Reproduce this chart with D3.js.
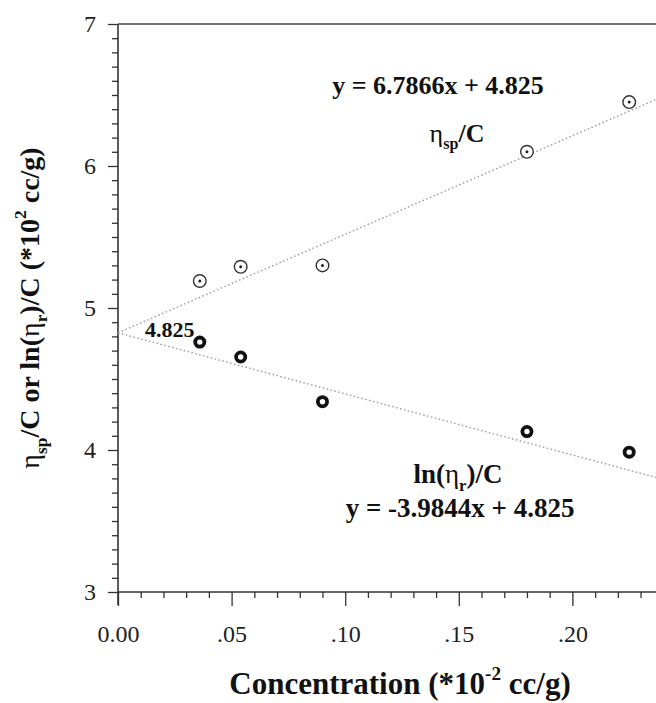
<!DOCTYPE html>
<html>
<head>
<meta charset="utf-8">
<script src="https://cdnjs.cloudflare.com/ajax/libs/d3/7.8.5/d3.min.js"></script>
<style>
  body { margin: 0; background: #fff; }
  svg { display: block; font-family: "Liberation Serif", "Times New Roman", serif; }
  .axis path { display: none; }
  .axis line { stroke: #333; stroke-width: 1.3; }
  .axis text { fill: #222; font-size: 24px; font-family: "Liberation Serif", "Times New Roman", serif; }
</style>
</head>
<body>
<div id="chart"></div>
<script>
// data
const conc = [0.036, 0.054, 0.090, 0.180, 0.225];
const etaSpC = [5.19, 5.29, 5.30, 6.10, 6.45];
const lnEtaRC = [4.76, 4.655, 4.34, 4.13, 3.985];

// dotted fit lines as drawn (start and end)
const fitX = [0, 0.25];
const fitUpper = [4.825, 6.56];
const fitLower = [4.825, 3.75];

const xMajor = [0, 0.05, 0.10, 0.15, 0.20];
const xLabels = ["0.00", ".05", ".10", ".15", ".20"];
const yMajor = [3, 4, 5, 6, 7];

const width = 656;
const height = 703;

const svg = d3.select("#chart")
  .append("svg")
  .attr("width", width)
  .attr("height", height);

const x = d3.scaleLinear().domain([0, 0.25]).range([118, 686]);
const y = d3.scaleLinear().domain([3, 7]).range([592, 24]);

// minor ticks
const xMinor = d3.range(0, 0.2501, 0.01).filter(v => Math.abs(v * 20 - Math.round(v * 20)) > 1e-6);
const yMinor = d3.range(3, 7.001, 0.1).filter(v => Math.abs(v - Math.round(v)) > 1e-6);

svg.append("g")
  .attr("class", "axis")
  .attr("transform", `translate(0,${y(3)})`)
  .call(d3.axisBottom(x).tickValues(xMinor).tickSize(6).tickFormat(""));

svg.append("g")
  .attr("class", "axis")
  .attr("transform", `translate(0,${y(3)})`)
  .call(d3.axisBottom(x).tickValues(xMajor).tickSize(14).tickPadding(19)
    .tickFormat((d, i) => xLabels[i]));

svg.append("g")
  .attr("class", "axis")
  .attr("transform", `translate(${x(0)},0)`)
  .call(d3.axisLeft(y).tickValues(yMinor).tickSize(6).tickFormat(""));

svg.append("g")
  .attr("class", "axis")
  .attr("transform", `translate(${x(0)},0)`)
  .call(d3.axisLeft(y).tickValues(yMajor).tickSize(10).tickPadding(12).tickFormat(d3.format("d")));

// frame lines
svg.append("line")
  .attr("x1", x(0)).attr("x2", x(0))
  .attr("y1", y(7)).attr("y2", y(3) + 13)
  .attr("stroke", "#333").attr("stroke-width", 1.6);
svg.append("line")
  .attr("x1", x(0)).attr("x2", width)
  .attr("y1", y(3)).attr("y2", y(3))
  .attr("stroke", "#333").attr("stroke-width", 1.6);
svg.append("line")
  .attr("x1", x(0)).attr("x2", width)
  .attr("y1", y(7)).attr("y2", y(7))
  .attr("stroke", "#444").attr("stroke-width", 1.4);

// fit lines
const line = d3.line().x(d => x(d[0])).y(d => y(d[1]));
[fitUpper, fitLower].forEach(vals => {
  svg.append("path")
    .datum(fitX.map((v, i) => [v, vals[i]]))
    .attr("d", line)
    .attr("fill", "none")
    .attr("stroke", "#999")
    .attr("stroke-width", 1.4)
    .attr("stroke-dasharray", "1.5,2.5");
});

// eta_sp/C markers: open circle with centre dot
const sp = svg.append("g");
sp.selectAll("circle.ring")
  .data(conc)
  .join("circle")
  .attr("class", "ring")
  .attr("cx", d => x(d))
  .attr("cy", (d, i) => y(etaSpC[i]))
  .attr("r", 6.3)
  .attr("fill", "#fff")
  .attr("stroke", "#333")
  .attr("stroke-width", 1.4);
sp.selectAll("circle.dot")
  .data(conc)
  .join("circle")
  .attr("class", "dot")
  .attr("cx", d => x(d))
  .attr("cy", (d, i) => y(etaSpC[i]))
  .attr("r", 1.5)
  .attr("fill", "#222");

// ln(eta_r)/C markers: thick black ring
svg.append("g").selectAll("circle")
  .data(conc)
  .join("circle")
  .attr("cx", d => x(d))
  .attr("cy", (d, i) => y(lnEtaRC[i]))
  .attr("r", 4.6)
  .attr("fill", "#fff")
  .attr("stroke", "#111")
  .attr("stroke-width", 3.8);

// annotations (centred by measuring the whole text, tspans and all)
function label(tx, ty, parts, size, anchor, rotate) {
  const g = svg.append("g")
    .attr("transform", `translate(${tx},${ty})` + (rotate ? ` rotate(${rotate})` : ""));
  const t = g.append("text")
    .attr("x", 0).attr("y", 0)
    .attr("font-size", size)
    .attr("font-weight", "bold")
    .attr("fill", "#111");
  parts.forEach(p => {
    const s = t.append("tspan").text(p.t);
    if (p.sub) s.attr("font-size", size * 0.62).attr("dy", size * 0.28);
    if (p.sup) s.attr("font-size", size * 0.62).attr("dy", -size * 0.45);
    if (p.back) s.attr("dy", p.back);
    if (p.normal) s.attr("font-weight", "normal");
  });
  if (anchor !== "start") {
    const w = t.node().getComputedTextLength();
    t.attr("x", -w / 2);
  }
  return t;
}

label(438, 94, [{ t: "y = 6.7866x + 4.825" }], 26);
label(457, 142, [{ t: "η", normal: true }, { t: "sp", sub: true }, { t: "/C", back: -26 * 0.28 }], 26);
label(145, 337, [{ t: "4.825" }], 22, "start");
label(458, 483, [{ t: "ln(" }, { t: "η", normal: true }, { t: "r", sub: true }, { t: ")/C", back: -27 * 0.28 }], 27);
label(460, 517, [{ t: "y = -3.9844x + 4.825" }], 27);

// axis titles
label(400, 694, [{ t: "Concentration (*10" }, { t: "-2", sup: true }, { t: " cc/g)", back: 31 * 0.45 }], 31);

label(39, 308, [{ t: "η", normal: true }, { t: "sp", sub: true }, { t: "/C or ln(", back: -28 * 0.28 },
  { t: "η", normal: true }, { t: "r", sub: true }, { t: ")/C (*10", back: -28 * 0.28 },
  { t: "2", sup: true }, { t: " cc/g)", back: 28 * 0.45 }], 28, "middle", -90);
</script>
</body>
</html>
